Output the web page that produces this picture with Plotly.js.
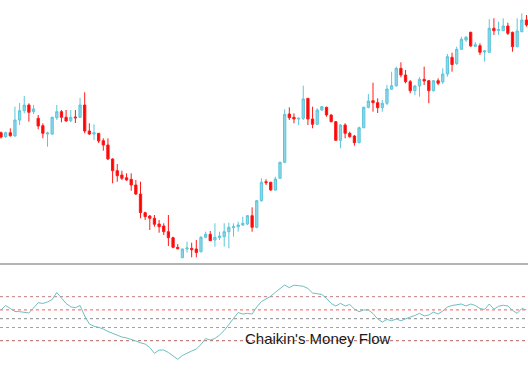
<!DOCTYPE html>
<html>
<head>
<meta charset="utf-8">
<script src="https://cdn.plot.ly/plotly-3.0.1.min.js"></script>
<style>
html,body{margin:0;padding:0;background:#fff;}
#chart{width:528px;height:371px;}
</style>
</head>
<body>
<div id="chart"></div>
<script>
// Price data (arbitrary price units)
const openP = [167.3,163.3,167.3,164,180,189.3,195,188.3,181.7,174.3,166,166,182.3,188.3,182.7,179.3,183,182.7,195,169,
166,166.7,159.3,155,141,129.3,125,122.3,120.7,115,106,87.3,84,81.7,76,74,68.3,62.3,52.7,42.3,
51,51.7,51,48.3,62.7,65.7,60,62.3,63.3,68.3,72.3,73.3,75,76,84.3,72.7,99.3,118.3,117.7,110,
121.7,137.7,186,182.7,181,181.7,201.7,181,175.7,190,192.7,185,178.3,159.7,175,166.7,164,157.3,172.3,192.7,
199.3,197.3,192.3,196.7,210.7,214.3,231.7,225,218.3,209.3,214,220.7,219.3,209.3,219.3,218,226,242.7,236.5,250.7,
260,267.7,253.7,254.3,248,247.7,271.7,269.5,269.3,274,267.7,253.3,268.3,280];
const highP = [168.5,168.3,171.7,193.3,197,204,196.7,195,185,176.7,168.3,183.3,195,190,190,190,190,202.3,207.7,176.7,
175.7,167,161.7,161.7,141.7,136,129.3,126.7,126.7,120,118.3,88.3,85,85,80,76.7,85,63.3,56,51.5,
58.3,57.3,60,64,68.3,69,76.7,68.3,76.7,77.3,76.7,78.3,83.3,85,92.7,100,121.7,120.7,118.3,123.3,
138.3,190.7,192.7,186.7,182.3,214.3,201.7,193.3,191.7,194,193.3,185.7,179,175.7,176.7,168.3,165,173.3,193.3,206,
217.3,201.7,200,215,228.3,233.3,237.7,230,220,215,222.7,233.3,220,220,221.7,231.7,246,247.3,253.3,263.3,
264,268.3,258,256.7,250,280.7,281.7,278.3,281.7,277.3,268.3,281.7,286.7,285];
const lowP = [161.5,162.3,163.3,163.5,175,186.7,178.3,186,170.7,161.7,153.3,165,180,177.7,178.3,177.7,177,182.2,166.7,165,
160,157,149.3,140,116.7,118.3,120,119.3,109.3,105,81.7,80,70,73.3,67.3,65,54,51.7,50.7,41.7,
47.5,42.7,42.7,47.5,61.7,59,53.3,60,53.3,51.7,63.3,68.3,74,75,68.3,71.7,98.3,115,109.3,109.3,
121,136.7,180,176.7,175,180,175,171.7,175,189,183.3,177.7,159,151.7,161.7,162.3,154.3,156.7,171.7,191.7,
188.3,187,188.3,195,210,213.3,222.7,216.7,206.7,205,203.3,215,196.7,208.3,215,216,223.3,228.3,235,250,
258.3,253.3,253,245,238.3,247.3,265,265,269,265,248.3,252.7,267.7,273.3];
const closeP = [163,167.3,164.3,180,189.3,195,187.7,191,174,166.7,167,182.7,188.3,182.7,179,182.7,182.2,195,169,166,
167.3,159,155,141,129.3,124.3,121.7,120,115,106,87.3,83.3,81.7,75.7,73.3,68.3,62.3,52.7,51.3,51,
52,50.3,47.5,62.7,65.7,59.3,62.7,64,68.3,72.7,73.3,75,76.7,84.3,72.7,99.3,117.7,117.3,110,121,
137.7,185.7,182.3,181,181.7,201,181,175.7,190,193.3,185,178.3,159.7,175,166.7,163.3,157.3,172.3,192.7,199,
197.3,192.3,196.7,211,214.3,231.7,225,218.3,209.3,214,220.7,219,209.3,219.3,216.7,226,243.3,235.5,250.7,260.7,
262.7,254,255.3,247.7,249,271.7,269.3,270.5,274,266.7,253.3,269,280,275];

// Chaikin's Money Flow values, one per bar
const cmf = [0.099,0.150,0.116,0.082,0.080,0.070,0.065,0.122,0.182,0.173,0.190,0.218,0.298,0.235,0.173,0.135,0.125,0.150,0.031,-0.060,
-0.086,-0.098,-0.117,-0.145,-0.168,-0.185,-0.208,-0.219,-0.234,-0.253,-0.274,-0.288,-0.327,-0.393,-0.356,-0.356,-0.384,-0.424,-0.461,-0.418,
-0.388,-0.367,-0.344,-0.293,-0.225,-0.242,-0.225,-0.185,-0.134,-0.066,0.008,0.070,0.053,0.061,0.053,0.133,0.195,0.224,0.255,0.300,
0.338,0.383,0.352,0.381,0.375,0.368,0.343,0.292,0.284,0.275,0.232,0.173,0.144,0.175,0.144,0.161,0.110,0.080,0.099,0.099,
0.059,-0.003,-0.038,-0.009,-0.023,-0.003,-0.023,0.002,0.019,0.036,0.061,0.031,0.042,0.076,0.053,0.088,0.133,0.150,0.156,0.167,
0.144,0.167,0.150,0.116,0.105,0.167,0.108,0.141,0.153,0.144,0.095,0.061,0.116,0.099];

// Indicator reference levels
const levels = [0.25, 0.1, 0, -0.1, -0.25];
const indicatorLabel = "Chaikin's Money Flow";

const bars = openP.map((_, i) => i);

const levelColors = ['#c07a7a', '#ff5a5a', '#8a8a8a', '#ff7a7a', '#b06060'];

const traces = [
  {
    type: 'candlestick',
    x: bars, open: openP, high: highP, low: lowP, close: closeP,
    xaxis: 'x', yaxis: 'y',
    increasing: {line: {color: '#5cc6dc', width: 1}, fillcolor: '#8fd4e6'},
    decreasing: {line: {color: '#ff1a1a', width: 1}, fillcolor: '#ff0000'},
    whiskerwidth: 0,
    hoverinfo: 'skip',
    showlegend: false
  },
  {
    type: 'scatter', mode: 'lines',
    x: bars, y: cmf,
    xaxis: 'x', yaxis: 'y2',
    line: {color: '#6fbfc0', width: 1},
    hoverinfo: 'skip',
    showlegend: false
  }
];

const shapes = levels.map((lv, i) => ({
  type: 'line', xref: 'paper', x0: 0, x1: 1, yref: 'y2', y0: lv, y1: lv,
  line: {color: levelColors[i], width: 1, dash: 'dot'}, layer: 'below'
}));
shapes.push({
  type: 'line', xref: 'paper', x0: 0, x1: 1, yref: 'paper', y0: 0.2884, y1: 0.2884,
  line: {color: '#b4b4b4', width: 2}
});

const layout = {
  width: 528, height: 371,
  margin: {l: 0, r: 0, t: 0, b: 0, pad: 0},
  paper_bgcolor: '#ffffff', plot_bgcolor: '#ffffff',
  showlegend: false,
  xaxis: {range: [-0.215, 113.33], visible: false, showgrid: false, zeroline: false,
          rangeslider: {visible: false}, fixedrange: true},
  yaxis: {domain: [0.2938, 1], range: [38, 300], visible: false, showgrid: false, zeroline: false},
  yaxis2: {domain: [0, 0.2857], range: [-0.594, 0.610], visible: false, showgrid: false, zeroline: false},
  shapes: shapes,
  annotations: [{
    text: indicatorLabel, xref: 'paper', yref: 'paper',
    x: 0.4605, y: 0.0876, xanchor: 'left', yanchor: 'middle',
    showarrow: false,
    font: {family: 'Liberation Sans, Arial, sans-serif', size: 15, color: '#1a1a1a'}
  }],
  hovermode: false
};

Plotly.newPlot('chart', traces, layout, {displayModeBar: false, staticPlot: true});
</script>
</body>
</html>
